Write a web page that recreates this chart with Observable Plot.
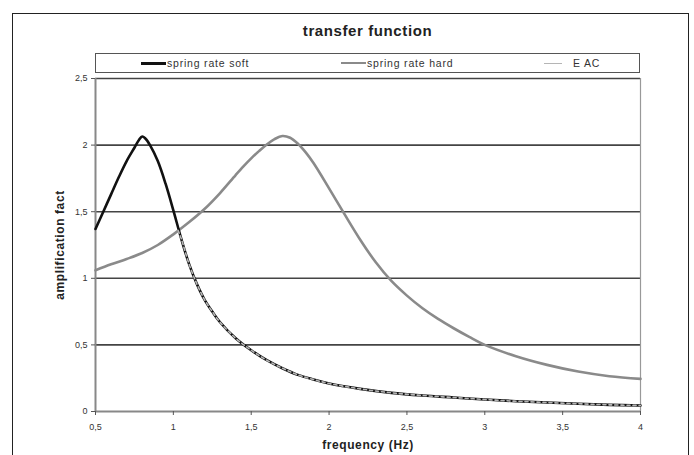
<!DOCTYPE html>
<html>
<head>
<meta charset="utf-8">
<script src="https://cdn.jsdelivr.net/npm/d3@7"></script>
<script src="https://cdn.jsdelivr.net/npm/@observablehq/plot@0.6"></script>
<style>
  html, body { margin: 0; padding: 0; background: #fff; }
  body { width: 694px; height: 455px; position: relative; overflow: hidden; font-family: "Liberation Sans", Arial, sans-serif; }
  #frame { position: absolute; left: 12px; top: 13px; width: 677px; height: 460px; border: 1.5px solid #222; box-sizing: border-box; }
  #title { position: absolute; left: 95px; width: 545px; top: 22px; text-align: center; font-weight: bold; font-size: 15px; color: #222; letter-spacing: 0.6px; }
  #legend { position: absolute; left: 95px; top: 53px; width: 545px; height: 20px; border: 1.5px solid #555; box-sizing: border-box; background: #fff; }
  .item { position: absolute; top: 3px; font-size: 10.5px; letter-spacing: 0.8px; color: #333; display: flex; align-items: center; white-space: nowrap; }
  .swatch { display: inline-block; width: 25px; margin-right: 1px; }
  #chart { position: absolute; left: 0; top: 0; }
</style>
</head>
<body>
<div id="chart"></div>
<div id="frame"></div>
<div id="title">transfer function</div>
<div id="legend"></div>
<script>
// Frequencies (Hz) and amplification factors
const softFreq  = [0.5, 0.55, 0.6, 0.65, 0.7, 0.75, 0.78, 0.8, 0.82, 0.85, 0.9, 0.95, 1.0, 1.05, 1.1, 1.15, 1.2, 1.25, 1.3, 1.4, 1.5, 1.6, 1.7, 1.8, 1.9, 2.0, 2.2, 2.4, 2.6, 2.8, 3.0, 3.2, 3.4, 3.6, 3.8, 4.0];
const softValue = [1.37, 1.50, 1.63, 1.76, 1.88, 1.98, 2.04, 2.065, 2.05, 2.0, 1.88, 1.71, 1.51, 1.30, 1.11, 0.96, 0.84, 0.75, 0.67, 0.55, 0.46, 0.385, 0.325, 0.275, 0.24, 0.21, 0.17, 0.14, 0.12, 0.105, 0.09, 0.077, 0.067, 0.058, 0.05, 0.045];

const hardFreq  = [0.5, 0.6, 0.7, 0.8, 0.9, 1.0, 1.1, 1.2, 1.3, 1.4, 1.45, 1.5, 1.55, 1.6, 1.65, 1.7, 1.75, 1.8, 1.85, 1.9, 2.0, 2.1, 2.2, 2.3, 2.4, 2.5, 2.6, 2.7, 2.8, 2.9, 3.0, 3.2, 3.4, 3.6, 3.8, 4.0];
const hardValue = [1.06, 1.105, 1.145, 1.19, 1.25, 1.33, 1.42, 1.52, 1.64, 1.775, 1.84, 1.90, 1.955, 2.005, 2.045, 2.068, 2.055, 2.01, 1.945, 1.865, 1.675, 1.48, 1.29, 1.12, 0.98, 0.87, 0.775, 0.695, 0.625, 0.56, 0.50, 0.415, 0.35, 0.30, 0.265, 0.245];

const eacFreq  = [1.03, 1.05, 1.1, 1.15, 1.2, 1.25, 1.3, 1.4, 1.5, 1.6, 1.7, 1.8, 1.9, 2.0, 2.2, 2.4, 2.6, 2.8, 3.0, 3.2, 3.4, 3.6, 3.8, 4.0];
const eacValue = [1.36, 1.30, 1.11, 0.96, 0.84, 0.75, 0.67, 0.55, 0.46, 0.385, 0.325, 0.275, 0.24, 0.21, 0.17, 0.14, 0.12, 0.105, 0.09, 0.077, 0.067, 0.058, 0.05, 0.045];

const xTicks = [0.5, 1, 1.5, 2, 2.5, 3, 3.5, 4];
const yTicks = [0, 0.5, 1, 1.5, 2, 2.5];

const seriesNames = ["spring rate soft", "spring rate hard", "E AC"];

const toRows = (fs, vs) => fs.map((f, i) => ({f, v: vs[i]}));
const soft = toRows(softFreq, softValue);
const hard = toRows(hardFreq, hardValue);
const eac = toRows(eacFreq, eacValue);

const fmt = d => String(d).replace(".", ",");

const chart = Plot.plot({
  width: 694,
  height: 455,
  marginLeft: 95,
  marginRight: 54,
  marginTop: 78,
  marginBottom: 44,
  style: {fontFamily: "Liberation Sans, Arial, sans-serif", fontSize: "9px", color: "#333", background: "transparent"},
  x: {domain: [0.5, 4]},
  y: {domain: [0, 2.5]},
  marks: [
    Plot.ruleY(yTicks.filter(d => d > 0), {stroke: "#444", strokeWidth: 1.6}),
    Plot.ruleX([0.5], {stroke: "#888", strokeWidth: 2}),
    Plot.ruleX([4], {stroke: "#999", strokeWidth: 1.2}),
    Plot.ruleY([0], {stroke: "#888", strokeWidth: 2}),
    Plot.axisX({ticks: xTicks, tickFormat: fmt, tickSize: 4, tickPadding: 8, stroke: "#555",
      label: "frequency (Hz)", labelAnchor: "center", labelArrow: "none", labelOffset: 37,
      fontSize: 9}),
    Plot.axisY({ticks: yTicks, tickFormat: fmt, tickSize: 4, tickPadding: 4, stroke: "#555",
      label: "amplification fact", labelAnchor: "center", labelArrow: "none", labelOffset: 40,
      fontSize: 9}),
    Plot.line(hard, {x: "f", y: "v", stroke: "#8a8a8a", strokeWidth: 2.6, curve: "catmull-rom"}),
    Plot.line(soft, {x: "f", y: "v", stroke: "#111", strokeWidth: 2.6, curve: "catmull-rom"}),
    Plot.line(eac, {x: "f", y: "v", stroke: "#b5b5b5", strokeWidth: 1.6, strokeDasharray: "3,3", curve: "catmull-rom"})
  ]
});
// Bold axis titles
chart.querySelectorAll("g[aria-label='x-axis label'] text, g[aria-label='y-axis label'] text").forEach(t => {
  t.setAttribute("font-weight", "bold");
  t.setAttribute("font-size", "12");
  t.setAttribute("letter-spacing", "0.6");
  t.setAttribute("fill", "#222");
});
document.getElementById("chart").appendChild(chart);

// Legend
const legend = document.getElementById("legend");
const legendStyles = [
  {left: 45, color: "#111", h: 3},
  {left: 245, color: "#8a8a8a", h: 2},
  {left: 448, color: "#b5b5b5", h: 1}
];
seriesNames.forEach((name, i) => {
  const s = legendStyles[i];
  const it = document.createElement("div");
  it.className = "item";
  it.style.left = s.left + "px";
  const sw = document.createElement("span");
  sw.className = "swatch";
  sw.style.height = s.h + "px";
  sw.style.background = s.color;
  if (i === 2) { sw.style.width = "18px"; sw.style.marginRight = "11px"; }
  it.appendChild(sw);
  const tx = document.createElement("span");
  tx.textContent = name;
  it.appendChild(tx);
  legend.appendChild(it);
});
</script>
</body>
</html>
